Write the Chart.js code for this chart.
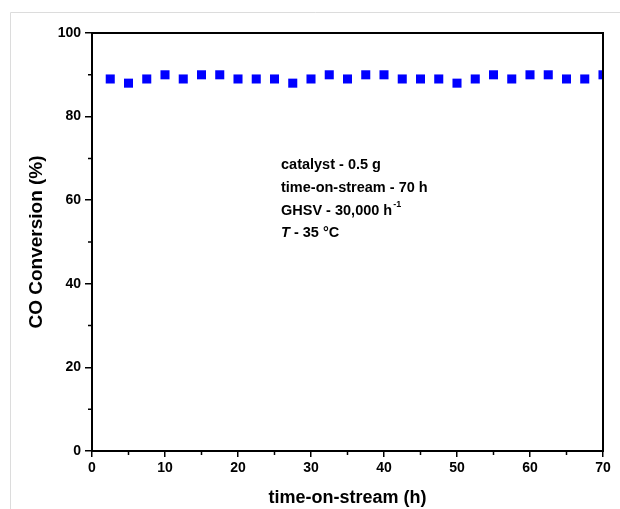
<!DOCTYPE html>
<html>
<head>
<meta charset="utf-8">
<script src="https://cdn.jsdelivr.net/npm/chart.js@4.4.1/dist/chart.umd.min.js"></script>
<style>
  html, body { margin: 0; padding: 0; background: #fff; }
  #wrap { width: 620px; height: 509px; position: relative; }
</style>
</head>
<body>
<div id="wrap"><canvas id="grafico"></canvas></div>
<script>
// time on stream (h) and CO conversion (%)
const horas = [2.5, 5, 7.5, 10, 12.5, 15, 17.5, 20, 22.5, 25, 27.5, 30, 32.5, 35,
               37.5, 40, 42.5, 45, 47.5, 50, 52.5, 55, 57.5, 60, 62.5, 65, 67.5, 70];
const conversion = [89, 88, 89, 90, 89, 90, 90, 89, 89, 89, 88, 89, 90, 89,
                    90, 90, 89, 89, 89, 88, 89, 90, 89, 90, 90, 89, 89, 90];
const xTicks = [0, 10, 20, 30, 40, 50, 60, 70];
const yTicks = [0, 20, 40, 60, 80, 100];
const xMinor = [5, 15, 25, 35, 45, 55, 65];
const yMinor = [10, 30, 50, 70, 90];

const fuente = "'Liberation Sans', Arial, sans-serif";

const puntos = horas.map((h, i) => ({ x: h, y: conversion[i] }));

const marcoPlugin = {
    id: "marco",
    beforeDraw(chart) {
        const ctx = chart.ctx;
        ctx.save();
        ctx.strokeStyle = "#dcdcdc";
        ctx.lineWidth = 1;
        ctx.beginPath();
        ctx.moveTo(10.5, 509);
        ctx.lineTo(10.5, 12.5);
        ctx.lineTo(620, 12.5);
        ctx.stroke();
        ctx.restore();
    },
    afterDraw(chart) {
        const ctx = chart.ctx;
        const a = chart.chartArea;
        const sx = chart.scales.x, sy = chart.scales.y;
        ctx.save();
        ctx.strokeStyle = "#000";
        ctx.lineWidth = 2;
        ctx.strokeRect(a.left, a.top, a.right - a.left, a.bottom - a.top);
        // minor ticks
        ctx.lineWidth = 1.5;
        ctx.beginPath();
        xMinor.forEach(v => {
            const px = sx.getPixelForValue(v);
            ctx.moveTo(px, a.bottom);
            ctx.lineTo(px, a.bottom + 4);
        });
        yMinor.forEach(v => {
            const py = sy.getPixelForValue(v);
            ctx.moveTo(a.left, py);
            ctx.lineTo(a.left - 4, py);
        });
        ctx.stroke();
        // annotation
        ctx.fillStyle = "#000";
        ctx.textBaseline = "middle";
        ctx.textAlign = "left";
        ctx.font = "bold 14.5px " + fuente;
        const x0 = 281;
        ctx.fillText("catalyst - 0.5 g", x0, 165);
        ctx.fillText("time-on-stream - 70 h", x0, 188);
        const t3 = "GHSV - 30,000 h";
        ctx.fillText(t3, x0, 211);
        const w3 = ctx.measureText(t3).width;
        ctx.font = "bold 9px " + fuente;
        ctx.fillText("-1", x0 + w3 + 1, 205);
        ctx.font = "italic bold 14.5px " + fuente;
        ctx.fillText("T", x0, 233);
        const wT = ctx.measureText("T").width;
        ctx.font = "bold 14.5px " + fuente;
        ctx.fillText(" - 35 \u00b0C", x0 + wT, 233);
        ctx.restore();
    }
};

const config = {
    type: "scatter",
    data: {
        datasets: [{
            label: "CO Conversion",
            data: puntos,
            pointStyle: "rect",
            pointRadius: 6.4,
            pointHoverRadius: 6.4,
            backgroundColor: "#0000ff",
            borderColor: "#0000ff",
            borderWidth: 0
        }]
    },
    options: {
        responsive: false,
        animation: false,
        events: [],
        layout: { padding: { left: 0, right: 17, top: 33, bottom: 0 } },
        plugins: {
            legend: { display: false },
            tooltip: { enabled: false }
        },
        scales: {
            x: {
                type: "linear",
                min: 0,
                max: 70,
                afterFit: s => { s.height = 58; },
                afterBuildTicks: s => { s.ticks = xTicks.map(v => ({ value: v })); },
                grid: { drawOnChartArea: false, color: "#000", lineWidth: 1.5, tickLength: 6 },
                border: { color: "#000", width: 2 },
                ticks: {
                    color: "#000",
                    padding: 3,
                    maxRotation: 0,
                    font: { family: fuente, size: 14, weight: "bold" }
                },
                title: {
                    display: true,
                    text: "time-on-stream (h)",
                    color: "#000",
                    padding: { top: 0, bottom: 0 },
                    font: { family: fuente, size: 18, weight: "bold" }
                }
            },
            y: {
                type: "linear",
                min: 0,
                max: 100,
                afterFit: s => { s.width = 92; },
                afterBuildTicks: s => { s.ticks = yTicks.map(v => ({ value: v })); },
                grid: { drawOnChartArea: false, color: "#000", lineWidth: 1.5, tickLength: 7 },
                border: { color: "#000", width: 2 },
                ticks: {
                    color: "#000",
                    padding: 4,
                    font: { family: fuente, size: 14, weight: "bold" }
                },
                title: {
                    display: true,
                    text: "CO Conversion (%)",
                    color: "#000",
                    padding: { top: 25, bottom: 0 },
                    font: { family: fuente, size: 19, weight: "bold" }
                }
            }
        }
    },
    plugins: [marcoPlugin]
};

window.addEventListener("DOMContentLoaded", () => {
    const canvas = document.getElementById("grafico");
    canvas.width = 620;
    canvas.height = 509;
    new Chart(canvas.getContext("2d"), config);
});
</script>
</body>
</html>
